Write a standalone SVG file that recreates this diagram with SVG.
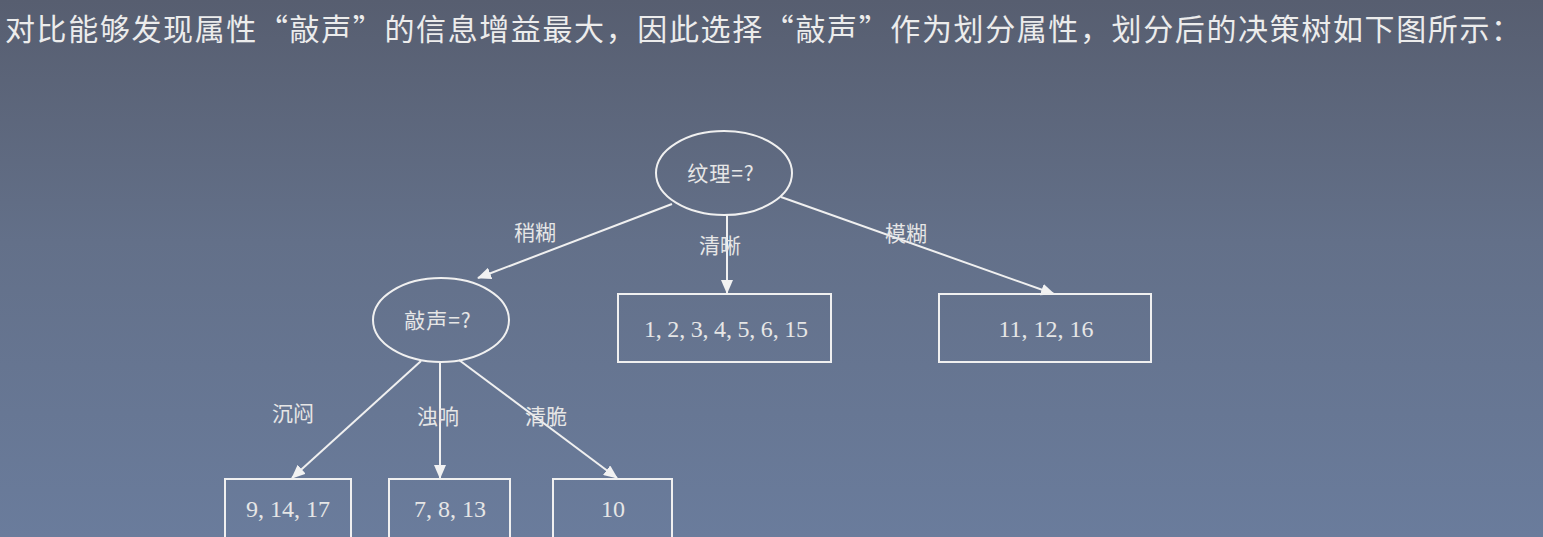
<svg xmlns="http://www.w3.org/2000/svg" width="1543" height="537" viewBox="0 0 1543 537">
  <defs>
    <linearGradient id="bg" x1="0" y1="0" x2="0" y2="1">
      <stop offset="0" stop-color="#575e70"/>
      <stop offset="0.45" stop-color="#637089"/>
      <stop offset="1" stop-color="#6a7c9c"/>
    </linearGradient>
    <marker id="arrow" markerWidth="14" markerHeight="12" refX="13" refY="6" orient="auto" markerUnits="userSpaceOnUse">
      <path d="M0,0 L14,6 L0,12 z" fill="#f2f2f2"/>
    </marker>
    <style>
      .shape { fill: none; stroke: #f0f0f0; stroke-width: 2; }
      .edge { fill: none; stroke: #f0f0f0; stroke-width: 2; marker-end: url(#arrow); }
      .title { font-family: "Noto Sans CJK SC", sans-serif; font-size: 30px; fill: #ececec; }
      .zh { font-family: "Noto Sans CJK SC", serif; font-size: 21px; fill: #e6e6e6; text-anchor: middle; }
      .num { font-family: "Liberation Serif", "Noto Sans CJK SC", serif; font-size: 24px; fill: #e6e6e6; text-anchor: middle; }
    </style>
  </defs>

  <rect width="1543" height="537" fill="url(#bg)"/>

  <text class="title" x="5" y="40" textLength="1516" lengthAdjust="spacing">对比能够发现属性“敲声”的信息增益最大，因此选择“敲声”作为划分属性，划分后的决策树如下图所示：</text>

  <!-- connectors with branch labels -->
  <g id="connectors">
    <line class="edge" x1="672" y1="204" x2="478" y2="278"/>
    <line class="edge" x1="727" y1="215" x2="727" y2="293"/>
    <line class="edge" x1="781" y1="197" x2="1054" y2="294"/>
    <line class="edge" x1="421" y1="361" x2="292" y2="478"/>
    <line class="edge" x1="440" y1="362" x2="440" y2="478"/>
    <line class="edge" x1="459" y1="360" x2="617" y2="478"/>
    <text class="zh" x="535" y="240">稍糊</text>
    <text class="zh" x="720" y="253">清晰</text>
    <text class="zh" x="906" y="241">模糊</text>
    <text class="zh" x="293" y="421">沉闷</text>
    <text class="zh" x="438" y="424">浊响</text>
    <text class="zh" x="546" y="424">清脆</text>
  </g>

  <g id="node-texture">
    <ellipse class="shape" cx="724" cy="173" rx="68" ry="42"/>
    <text class="zh" x="721" y="181" letter-spacing="1">纹理=?</text>
  </g>

  <g id="node-knock">
    <ellipse class="shape" cx="441" cy="320" rx="68" ry="42"/>
    <text class="zh" x="438" y="328" letter-spacing="1">敲声=?</text>
  </g>

  <g id="leaf-clear">
    <rect class="shape" x="618" y="294" width="213" height="68"/>
    <text class="num" x="726" y="337" textLength="164" lengthAdjust="spacing">1, 2, 3, 4, 5, 6, 15</text>
  </g>

  <g id="leaf-blurry">
    <rect class="shape" x="939" y="294" width="212" height="68"/>
    <text class="num" x="1046" y="337">11, 12, 16</text>
  </g>

  <g id="leaf-dull">
    <rect class="shape" x="225" y="479" width="126" height="70"/>
    <text class="num" x="288" y="517">9, 14, 17</text>
  </g>

  <g id="leaf-muffled">
    <rect class="shape" x="389" y="479" width="121" height="70"/>
    <text class="num" x="450" y="517">7, 8, 13</text>
  </g>

  <g id="leaf-crisp">
    <rect class="shape" x="553" y="479" width="119" height="70"/>
    <text class="num" x="613" y="517">10</text>
  </g>
</svg>
